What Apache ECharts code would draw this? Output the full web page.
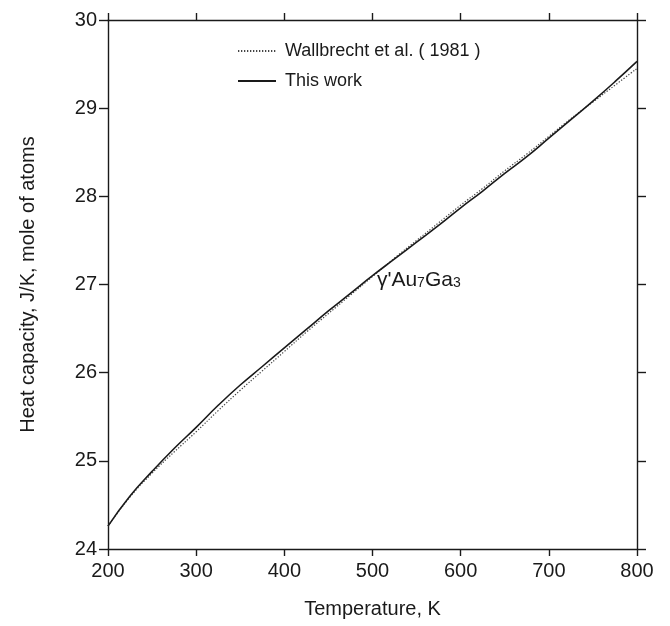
<!DOCTYPE html>
<html>
<head>
<meta charset="utf-8">
<script src="https://cdn.jsdelivr.net/npm/echarts@6/dist/echarts.min.js"></script>
<style>
html,body{margin:0;padding:0;background:#fff;}
#chart{width:670px;height:626px;}
</style>
</head>
<body>
<div id="chart"></div>
<script>
const temperatures = [200,225,250,275,300,325,350,375,400,425,450,475,500,525,550,575,600,625,650,675,700,725,750,775,800];
const thisWork = [24.26,24.60,24.88,25.14,25.38,25.63,25.86,26.07,26.28,26.49,26.70,26.90,27.10,27.29,27.48,27.67,27.87,28.06,28.26,28.45,28.66,28.87,29.08,29.30,29.53];
const wallbrecht = [24.26,24.59,24.86,25.10,25.33,25.57,25.80,26.02,26.24,26.46,26.67,26.88,27.09,27.30,27.50,27.70,27.90,28.09,28.29,28.48,28.68,28.88,29.07,29.26,29.45];
const xTicks = [200,300,400,500,600,700,800];
const yTicks = [24,25,26,27,28,29,30];
const seriesNames = ['Wallbrecht et al. ( 1981 )','This work'];
const phaseLabel = {T: 505, Cp: 27.06};

const FONT = '"Liberation Sans", Arial, Helvetica, sans-serif';
const INK = '#1a1a1a';

const pair = (xs, ys) => xs.map((x, i) => [x, ys[i]]);

const chart = echarts.init(document.getElementById('chart'), null, {renderer: 'canvas'});

const axisCommon = {
  axisLine: {show: true, onZero: false, lineStyle: {color: INK, width: 1.4}},
  splitLine: {show: false},
  minorTick: {show: false}
};

const option = {
  backgroundColor: '#fff',
  animation: false,
  textStyle: {fontFamily: FONT},
  grid: {left: 108, right: 33, top: 20, bottom: 77, containLabel: false},
  legend: {
    orient: 'vertical',
    left: 232,
    top: 37,
    itemWidth: 38,
    itemHeight: 14,
    itemGap: 12,
    data: seriesNames,
    itemStyle: {opacity: 0},
    textStyle: {fontFamily: FONT, fontSize: 18, color: INK, padding: [0, 0, 0, 4]},
    selectedMode: false
  },
  xAxis: [
    Object.assign({}, axisCommon, {
      type: 'value', position: 'bottom', min: xTicks[0], max: xTicks[xTicks.length-1], interval: 100,
      name: 'Temperature, K', nameLocation: 'middle', nameGap: 50,
      nameTextStyle: {fontFamily: FONT, fontSize: 20, color: INK},
      axisTick: {show: true, inside: false, length: 7, lineStyle: {color: INK, width: 1.4}},
      axisLabel: {show: true, margin: 12, fontSize: 20, color: INK, fontFamily: FONT}
    }),
    Object.assign({}, axisCommon, {
      type: 'value', position: 'top', min: xTicks[0], max: xTicks[xTicks.length-1], interval: 100,
      axisTick: {show: true, inside: false, length: 7, lineStyle: {color: INK, width: 1.4}},
      axisLabel: {show: false}
    })
  ],
  yAxis: [
    Object.assign({}, axisCommon, {
      type: 'value', position: 'left', min: yTicks[0], max: yTicks[yTicks.length-1], interval: 1,
      name: 'Heat capacity, J/K, mole of atoms', nameLocation: 'middle', nameGap: 70,
      nameTextStyle: {fontFamily: FONT, fontSize: 20, color: INK},
      axisTick: {show: true, inside: false, length: 9, lineStyle: {color: INK, width: 1.4}},
      axisLabel: {show: true, margin: 11, fontSize: 20, color: INK, fontFamily: FONT}
    }),
    Object.assign({}, axisCommon, {
      type: 'value', position: 'right', min: yTicks[0], max: yTicks[yTicks.length-1], interval: 1,
      axisTick: {show: true, inside: false, length: 9, lineStyle: {color: INK, width: 1.4}},
      axisLabel: {show: false}
    })
  ],
  series: [
    {
      name: seriesNames[0], type: 'line', xAxisIndex: 0, yAxisIndex: 0,
      data: pair(temperatures, wallbrecht), smooth: true, symbol: 'none',
      lineStyle: {color: '#444', width: 1.2, type: [1.3, 1.7]},
      itemStyle: {color: '#444'}, z: 2
    },
    {
      name: seriesNames[1], type: 'line', xAxisIndex: 0, yAxisIndex: 0,
      data: pair(temperatures, thisWork), smooth: true, symbol: 'none',
      lineStyle: {color: INK, width: 1.6, type: 'solid'},
      itemStyle: {color: INK}, z: 3
    },
    {
      name: 'label', type: 'scatter', xAxisIndex: 0, yAxisIndex: 0,
      data: [[phaseLabel.T, phaseLabel.Cp]], symbolSize: 0, silent: true,
      itemStyle: {color: INK, opacity: 1},
      label: {
        show: true, position: [0, 0], align: 'left', verticalAlign: 'middle',
        color: INK, opacity: 1,
        formatter: "{m|γ'Au}{s|7}{m|Ga}{s|3}",
        rich: {
          m: {fontFamily: FONT, fontSize: 21, color: INK, verticalAlign: 'bottom', lineHeight: 22},
          s: {fontFamily: FONT, fontSize: 14, color: INK, verticalAlign: 'bottom', lineHeight: 22}
        }
      }
    }
  ]
};
chart.setOption(option);
</script>
</body>
</html>
